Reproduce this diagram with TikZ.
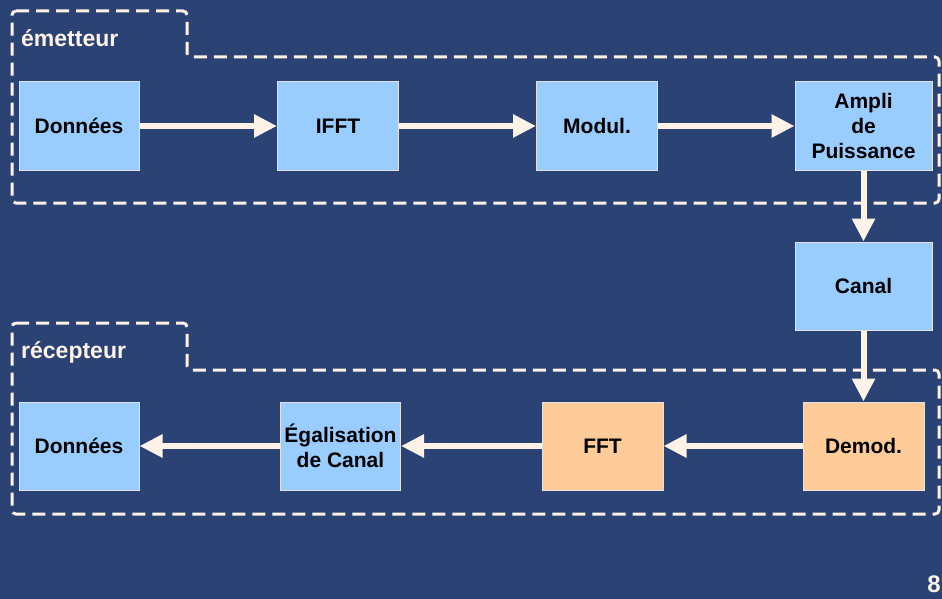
\documentclass[tikz,border=0pt]{standalone}
\usepackage{fontspec}
\setmainfont{Liberation Sans}
\usetikzlibrary{arrows.meta}
\definecolor{bgblue}{HTML}{2A4374}
\definecolor{cream}{HTML}{FFF2E6}
\definecolor{boxblue}{HTML}{99CCFF}
\definecolor{boxorange}{HTML}{FFCC99}
\definecolor{boxline}{HTML}{E2E2E2}
\tikzset{
  blockbox/.style={draw=boxline, line width=1pt, fill=boxblue, minimum width=121pt, minimum height=88pt,
    inner sep=0pt, align=center, font=\fontsize{21}{25}\selectfont\bfseries, text=black},
  orangebox/.style={blockbox, fill=boxorange},
  flow/.style={draw=cream, line width=6pt, -{Triangle[length=23pt,width=22pt]}, shorten >=0pt},
  group/.style={draw=cream, line width=3pt, dash pattern=on 13pt off 7pt, rounded corners=4pt},
  grouplabel/.style={text=cream, font=\fontsize{23}{27}\selectfont\bfseries, inner sep=0pt, anchor=base west},
}
\begin{document}
\begin{tikzpicture}[x=1pt, y=-1pt]
\clip (0,0) rectangle (942,599);
\fill[bgblue] (0,0) rectangle (942,599);
% groups
\draw[group] (12,11) -- (187,11) -- (187,57) -- (939,57) -- (939,203) -- (12,203) -- cycle;
\draw[group] (12,323) -- (187,323) -- (187,370) -- (939,370) -- (939,514) -- (12,514) -- cycle;
\node[grouplabel] (lemit) at (21,47) {émetteur};
\node[grouplabel] (lrecv) at (21,358) {récepteur};
% blocks
\node[blockbox, minimum width=120pt] (d1) at (79,126) {Données};
\node[blockbox] (ifft) at (338,126) {IFFT};
\node[blockbox] (modul) at (597,126) {Modul.};
\node[blockbox, minimum width=137pt] (ampli) at (863.5,126) {Ampli\\de\\Puissance};
\node[blockbox, minimum width=137pt] (canal) at (863.5,286) {Canal};
\node[orangebox] (demod) at (863.5,446) {Demod.};
\node[orangebox] (fft) at (602.5,446) {FFT};
\node[blockbox, minimum width=120pt] (egal) at (340.5,446) {Égalisation\\de Canal};
\node[blockbox, minimum width=120pt] (d2) at (79,446) {Données};
% connectors
\draw[flow] (d1.east) -- (ifft.west);
\draw[flow] (ifft.east) -- (modul.west);
\draw[flow] (modul.east) -- (ampli.west);
\draw[flow] (ampli.south) -- (canal.north);
\draw[flow] (canal.south) -- (demod.north);
\draw[flow] (demod.west) -- (fft.east);
\draw[flow] (fft.west) -- (egal.east);
\draw[flow] (egal.west) -- (d2.east);
% page number
\node[text=cream, font=\fontsize{24}{28}\selectfont\bfseries, inner sep=0pt, anchor=base east] (pnum) at (941,592) {8};
\end{tikzpicture}
\end{document}
